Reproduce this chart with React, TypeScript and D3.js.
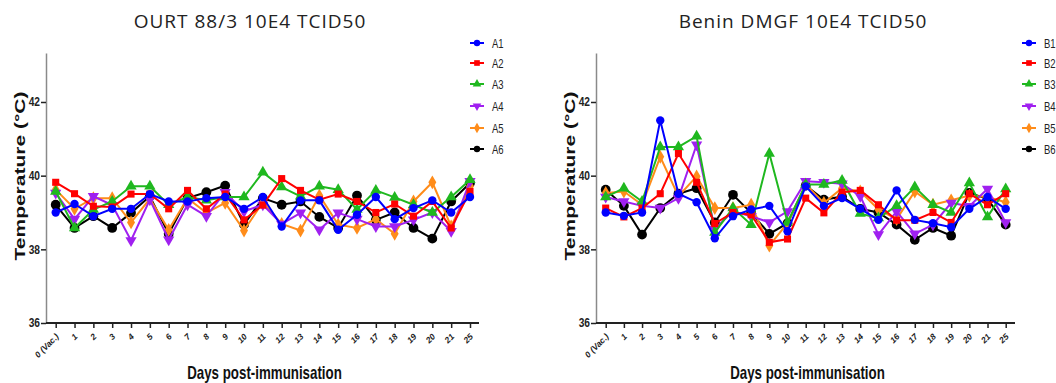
import React, { useRef, useEffect } from 'react';
import * as d3 from 'd3';

const days = ['0 (Vac.)', '1', '2', '3', '4', '5', '6', '7', '8', '9', '10', '11', '12', '13', '14', '15', '16', '17', '18', '19', '20', '21', '25'];
const yTicks = [36, 38, 40, 42];

const A1 = [39.0, 39.23, 38.9, 39.1, 39.1, 39.5, 39.3, 39.3, 39.39, 39.42, 39.1, 39.42, 38.62, 39.33, 39.33, 38.53, 38.94, 39.42, 38.82, 39.12, 39.33, 39.0, 39.42];
const A2 = [39.82, 39.51, 39.17, 39.15, 39.5, 39.5, 39.1, 39.6, 39.1, 39.5, 38.8, 39.2, 39.92, 39.6, 39.35, 39.5, 39.3, 39.0, 39.23, 38.9, 39.3, 38.58, 39.57];
const A3 = [39.57, 38.58, 39.08, 39.3, 39.71, 39.71, 39.21, 39.42, 39.33, 39.42, 39.42, 40.09, 39.69, 39.44, 39.71, 39.62, 39.08, 39.6, 39.41, 39.21, 39.0, 39.42, 39.89];
const A4 = [39.53, 38.82, 39.44, 39.2, 38.24, 39.35, 38.26, 39.21, 38.9, 39.55, 39.03, 39.21, 38.69, 38.99, 38.53, 38.99, 38.82, 38.62, 38.62, 38.8, 39.0, 38.49, 39.85];
const A5 = [39.62, 39.1, 39.39, 39.39, 38.73, 39.37, 38.53, 39.39, 38.99, 39.26, 38.51, 39.28, 38.69, 38.51, 39.46, 38.67, 38.58, 38.82, 38.42, 39.3, 39.82, 38.62, 39.71];
const A6 = [39.21, 38.58, 38.9, 38.58, 38.99, 39.44, 38.42, 39.39, 39.55, 39.73, 38.67, 39.39, 39.21, 39.3, 38.88, 38.58, 39.46, 38.8, 39.0, 38.58, 38.29, 39.3, 39.8];

const B1 = [39.0, 38.91, 39.0, 41.5, 39.51, 39.28, 38.3, 38.9, 39.08, 39.18, 38.49, 39.71, 39.18, 39.39, 39.1, 38.8, 39.6, 38.8, 38.71, 38.6, 39.1, 39.42, 39.1];
const B2 = [39.12, 38.88, 39.12, 39.51, 40.6, 39.82, 38.7, 39.0, 38.94, 38.19, 38.28, 39.39, 38.99, 39.55, 39.6, 39.21, 38.79, 38.79, 39.0, 38.73, 39.51, 39.21, 39.51];
const B3 = [39.42, 39.66, 39.3, 40.78, 40.78, 41.07, 38.46, 39.12, 38.67, 40.6, 38.73, 39.76, 39.76, 39.87, 38.97, 38.85, 39.18, 39.69, 39.21, 39.0, 39.8, 38.88, 39.64];
const B4 = [39.42, 39.3, 39.18, 39.12, 39.39, 40.84, 38.55, 39.03, 38.9, 38.73, 39.03, 39.85, 39.82, 39.78, 39.44, 38.4, 39.03, 38.42, 38.67, 39.26, 39.17, 39.64, 38.73];
const B5 = [39.53, 39.57, 39.21, 40.51, 39.44, 39.98, 39.12, 39.12, 39.21, 38.1, 38.71, 39.76, 39.26, 39.66, 39.57, 39.08, 38.82, 39.57, 39.21, 39.33, 39.46, 39.42, 39.28];
const B6 = [39.62, 39.18, 38.4, 39.12, 39.51, 39.66, 38.73, 39.48, 38.99, 38.42, 38.71, 39.73, 39.35, 39.43, 39.1, 39.0, 38.67, 38.26, 38.58, 38.37, 39.53, 39.37, 38.67];

const colors = ['#0000ff', '#ff0000', '#1fb81f', '#a020f0', '#ff8c1a', '#000000'];
const shapes = [d3.symbolCircle, d3.symbolSquare, d3.symbolTriangle, d3.symbolTriangle, d3.symbolDiamond, d3.symbolCircle];
const sizes = [55, 50, 55, 55, 55, 75];

const panels = [
  { title: 'OURT 88/3 10E4 TCID50', names: ['A1', 'A2', 'A3', 'A4', 'A5', 'A6'], series: [A1, A2, A3, A4, A5, A6],
    axisX: 46, x0: 55.7, x1: 470, axisEnd: 479, titleX: 250, legendX: 470 },
  { title: 'Benin DMGF 10E4 TCID50', names: ['B1', 'B2', 'B3', 'B4', 'B5', 'B6'], series: [B1, B2, B3, B4, B5, B6],
    axisX: 596, x0: 605.7, x1: 1005.7, axisEnd: 1015, titleX: 803, legendX: 1022 }
];

const bold = '"Liberation Sans", Arial, sans-serif';

function Chart() {
  const svgRef = useRef(null);

  useEffect(() => {
    const svg = d3.select(svgRef.current);
    svg.selectAll('*').remove();

    const yScale = d3.scaleLinear().domain([36, 43.33]).range([323, 53]);

    panels.forEach(p => {
      const xScale = d3.scalePoint().domain(days).range([p.x0, p.x1]);
      const g = svg.append('g');

      // title
      g.append('text')
        .attr('x', p.titleX).attr('y', 28)
        .attr('text-anchor', 'middle')
        .style('font-family', '"Open Sans", sans-serif')
        .style('font-size', '19px')
        .style('letter-spacing', '1px')
        .attr('fill', '#222')
        .text(p.title);

      // y axis
      const ya = g.append('g')
        .attr('transform', `translate(${p.axisX},0)`)
        .call(d3.axisLeft(yScale).tickValues(yTicks).tickSize(5).tickSizeOuter(0).tickFormat(d3.format('d')));
      ya.select('.domain').attr('stroke', '#8a8a8a').attr('stroke-width', 1.5);
      ya.selectAll('.tick line').attr('stroke', '#222').attr('stroke-width', 1.5);
      ya.selectAll('.tick text')
        .attr('x', -6 / 0.85)
        .attr('transform', 'scale(0.85,1)')
        .style('font-family', bold).style('font-size', '12px').style('font-weight', 'bold')
        .attr('fill', '#222');

      // x axis
      g.append('line')
        .attr('x1', p.axisX).attr('x2', p.axisEnd)
        .attr('y1', 323).attr('y2', 323)
        .attr('stroke', '#222').attr('stroke-width', 2);
      const xa = g.append('g')
        .attr('transform', 'translate(0,323)')
        .call(d3.axisBottom(xScale).tickSize(5).tickSizeOuter(0));
      xa.select('.domain').remove();
      xa.selectAll('.tick line').attr('stroke', '#222').attr('stroke-width', 1.5);
      xa.selectAll('.tick text')
        .attr('x', 0).attr('y', 0).attr('dy', '0.35em')
        .attr('transform', 'translate(1,12) rotate(-45)')
        .attr('text-anchor', 'end')
        .style('font-family', bold).style('font-size', '8.5px').style('font-weight', 'bold').style('font-style', 'italic')
        .attr('fill', '#222');

      // axis titles
      g.append('text')
        .attr('transform', `translate(${p.axisX - 21},176) scale(0.7,1) rotate(-90)`)
        .attr('text-anchor', 'middle')
        .style('font-family', bold).style('font-size', '21px').style('font-weight', 'bold')
        .attr('fill', '#111')
        .text('Temperature (°C)');
      g.append('text')
        .attr('transform', `translate(${(p.axisX + p.axisEnd) / 2 + 2},379) scale(0.74,1)`)
        .attr('text-anchor', 'middle')
        .style('font-family', bold).style('font-size', '18px').style('font-weight', 'bold')
        .attr('fill', '#111')
        .text('Days post-immunisation');

      // series
      const line = d3.line().x((d, i) => xScale(days[i])).y(d => yScale(d));
      for (let s = p.series.length - 1; s >= 0; s--) {
        const vals = p.series[s];
        g.append('path').datum(vals)
          .attr('fill', 'none').attr('stroke', colors[s]).attr('stroke-width', 2)
          .attr('d', line);
        const sym = d3.symbol().type(shapes[s]).size(sizes[s]);
        g.selectAll(null).data(vals).enter().append('path')
          .attr('d', sym)
          .attr('transform', (d, i) => `translate(${xScale(days[i])},${yScale(d)})${s === 3 ? ' rotate(180)' : ''}`)
          .attr('fill', colors[s]);
      }

      // legend
      const rows = [43, 63, 84, 106, 128, 149];
      p.names.forEach((name, s) => {
        const lg = g.append('g').attr('transform', `translate(${p.legendX},${rows[s]})`);
        lg.append('line').attr('x1', 0).attr('x2', 14).attr('y1', 0).attr('y2', 0)
          .attr('stroke', colors[s]).attr('stroke-width', 2);
        lg.append('path')
          .attr('d', d3.symbol().type(shapes[s]).size(32)())
          .attr('transform', `translate(7,0)${s === 3 ? ' rotate(180)' : ''}`)
          .attr('fill', colors[s]);
        lg.append('text')
          .attr('transform', 'translate(22,0) scale(0.76,1)')
          .attr('dy', '0.36em')
          .style('font-family', bold).style('font-size', '12.5px')
          .attr('fill', '#222')
          .text(name);
      });
    });
  }, []);

  return <svg ref={svgRef} width={1056} height={383} style={{ position: 'absolute', left: 0, top: 0, background: '#fff' }} />;
}

export default function App() {
  return <Chart />;
}
